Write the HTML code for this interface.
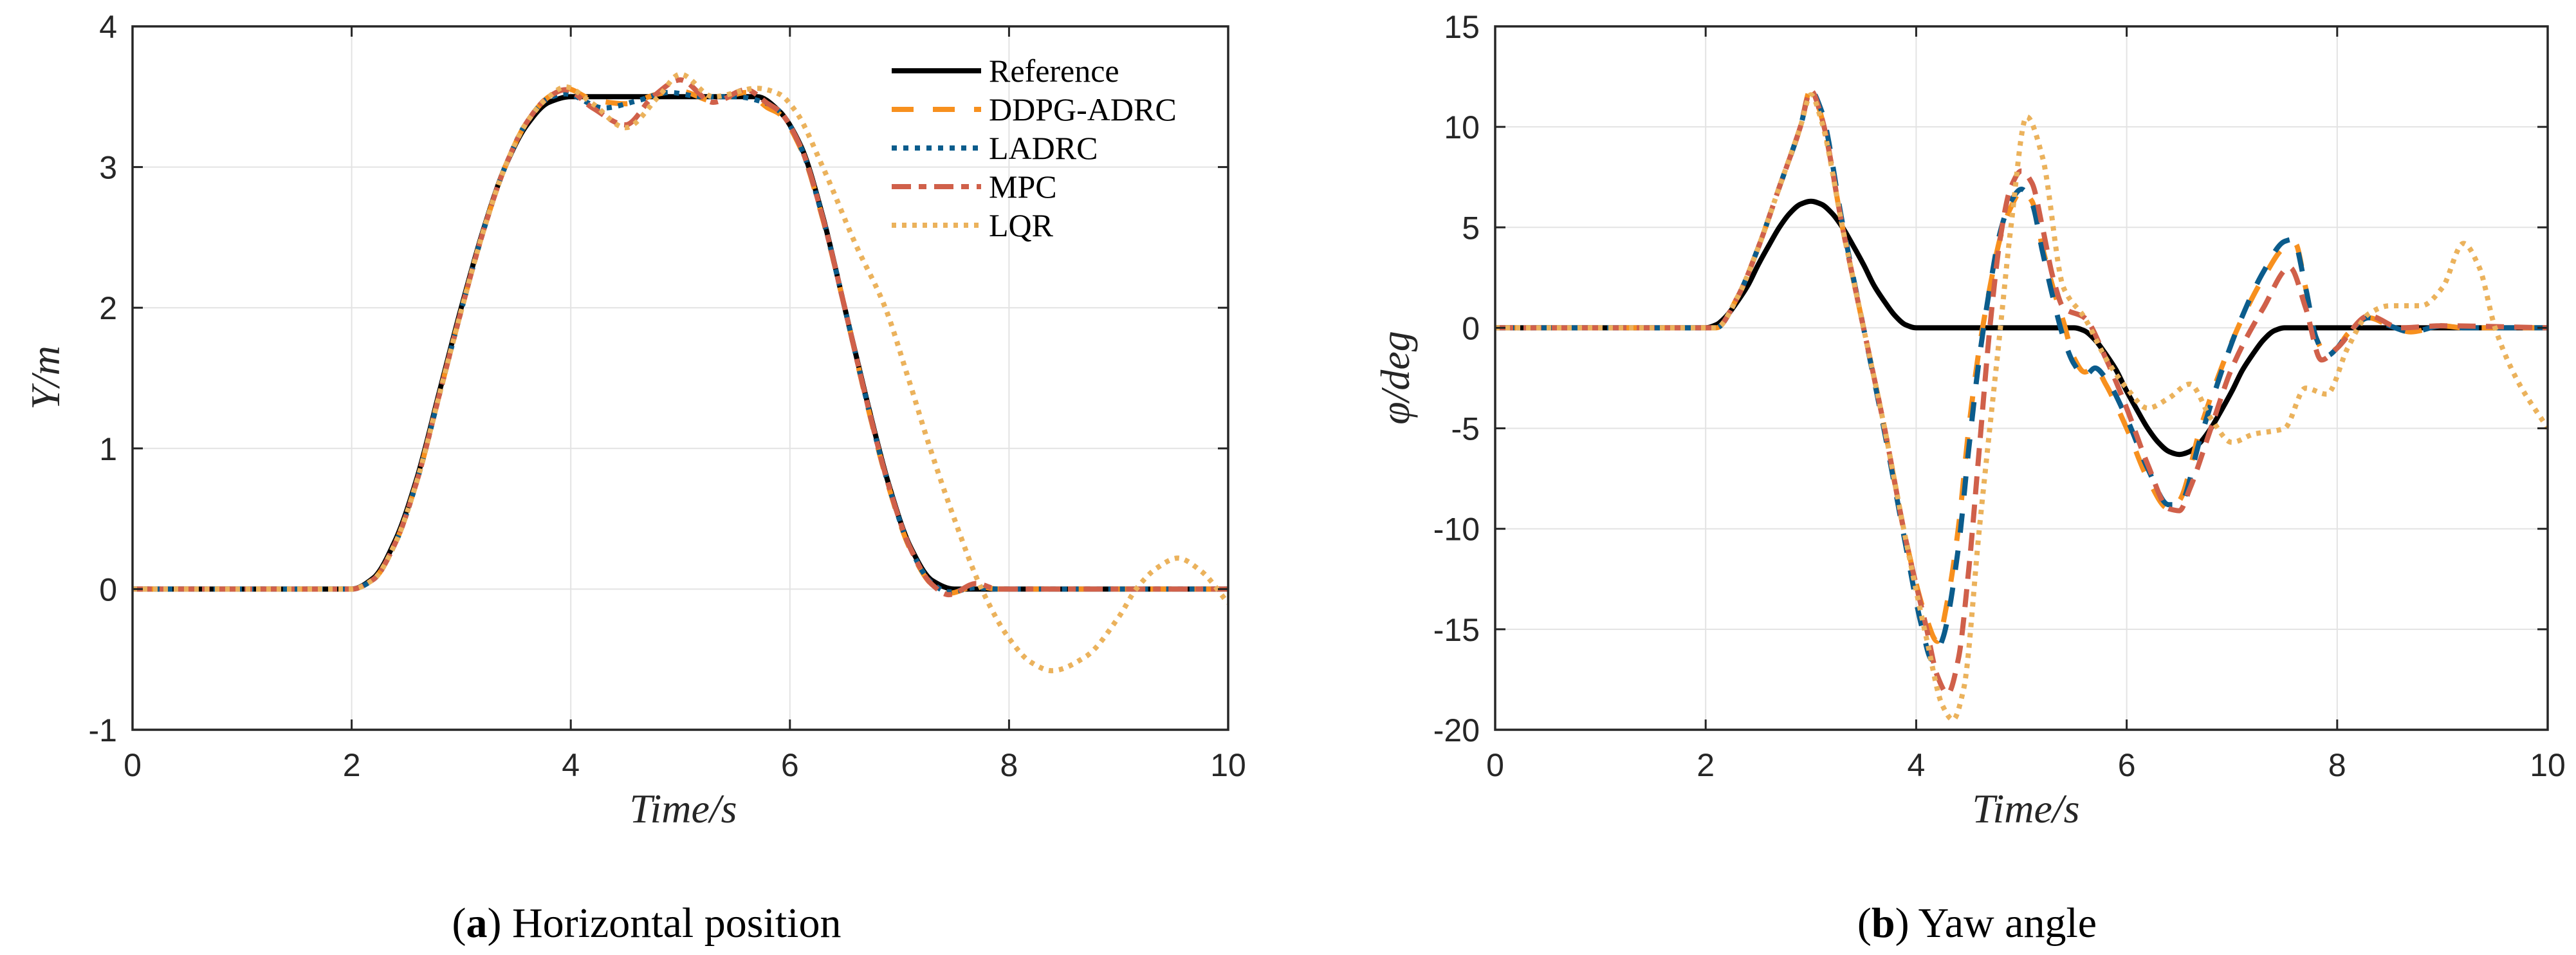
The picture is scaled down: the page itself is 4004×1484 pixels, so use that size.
<!DOCTYPE html>
<html><head><meta charset="utf-8"><style>
html,body{margin:0;padding:0;background:#fff;}
svg{display:block;}
</style></head><body>
<svg id="fig" width="4004" height="1484" viewBox="0 0 4004 1484" xmlns="http://www.w3.org/2000/svg">
<rect width="4004" height="1484" fill="#fff"/>
</svg>
<script>
// ---------- data: panel (a) horizontal position ----------
const xTicks = [0,2,4,6,8,10];
const yTicksA = [-1,0,1,2,3,4];
const yTicksB = [-20,-15,-10,-5,0,5,10,15];
const seriesNames = ["Reference","DDPG-ADRC","LADRC","MPC","LQR"];

const refT_A = [0,2.0,2.2,2.4,2.6,2.8,3.0,3.2,3.4,3.6,3.8,4.0,5.7,5.9,6.1,6.3,6.5,6.7,6.9,7.1,7.3,7.5,10];
const refY_A = [0,0,0.08,0.35,0.8,1.4,2.0,2.55,3.0,3.3,3.46,3.5,3.5,3.4,3.15,2.65,2.0,1.35,0.75,0.3,0.06,0,0];

const ddpgT_A = [0,2.0,2.2,2.4,2.6,2.8,3.0,3.2,3.4,3.6,3.8,3.95,4.2,4.5,4.8,5.0,5.3,5.6,5.8,5.9,6.1,6.3,6.5,6.7,6.9,7.1,7.3,7.45,7.7,7.9,10];
const ddpgY_A = [0,0,0.07,0.33,0.78,1.38,1.98,2.54,3.0,3.32,3.5,3.56,3.48,3.45,3.52,3.54,3.47,3.53,3.42,3.38,3.13,2.63,2.0,1.33,0.73,0.28,0.03,-0.03,0.02,0,0];

const ladrcT_A = [0,2.0,2.2,2.4,2.6,2.8,3.0,3.2,3.4,3.6,3.8,3.95,4.3,4.6,4.9,5.2,5.5,5.8,5.9,6.1,6.3,6.5,6.7,6.9,7.1,7.3,7.45,7.7,7.9,10];
const ladrcY_A = [0,0,0.07,0.33,0.78,1.38,1.98,2.54,3.0,3.32,3.49,3.52,3.42,3.47,3.53,3.5,3.5,3.45,3.4,3.14,2.64,2.0,1.34,0.74,0.29,0.04,-0.02,0.01,0,0];

const mpcT_A = [0,2.0,2.2,2.4,2.6,2.8,3.0,3.2,3.4,3.6,3.8,3.95,4.2,4.5,4.75,5.0,5.3,5.6,5.8,5.9,6.1,6.3,6.5,6.7,6.9,7.1,7.3,7.45,7.7,7.9,10];
const mpcY_A = [0,0,0.07,0.33,0.78,1.38,1.98,2.54,3.0,3.32,3.5,3.55,3.42,3.3,3.5,3.62,3.46,3.55,3.45,3.4,3.14,2.64,2.0,1.34,0.74,0.29,0.03,-0.04,0.04,0,0];

const lqrT_A = [0,2.0,2.2,2.4,2.6,2.8,3.0,3.2,3.4,3.6,3.8,3.95,4.2,4.5,4.8,5.0,5.3,5.7,5.9,6.05,6.3,6.6,6.87,7.08,7.28,7.5,7.75,8.0,8.2,8.39,8.7,9.0,9.16,9.35,9.54,9.75,10];
const lqrY_A = [0,0,0.07,0.33,0.78,1.38,1.98,2.54,3.0,3.32,3.5,3.57,3.45,3.28,3.5,3.66,3.5,3.56,3.52,3.4,3.0,2.45,2.0,1.5,1.0,0.5,0,-0.35,-0.52,-0.58,-0.48,-0.2,0,0.15,0.22,0.13,-0.1];

// ---------- data: panel (b) yaw angle ----------
const refT_B = [0,2.0,2.1,2.2,2.3,2.4,2.5,2.6,2.7,2.8,2.9,3.0,3.1,3.2,3.3,3.4,3.5,3.6,3.7,3.8,3.9,4.0,5.5,5.6,5.7,5.8,5.9,6.0,6.1,6.2,6.3,6.4,6.5,6.6,6.7,6.8,6.9,7.0,7.1,7.2,7.3,7.4,7.5,10];
const refY_B = [0,0,0.15,0.6,1.3,2.1,3.15,4.1,5.0,5.7,6.15,6.3,6.15,5.7,5.0,4.1,3.15,2.1,1.3,0.6,0.15,0,0,-0.15,-0.6,-1.3,-2.1,-3.15,-4.1,-5.0,-5.7,-6.15,-6.3,-6.15,-5.7,-5.0,-4.1,-3.15,-2.1,-1.3,-0.6,-0.15,0,0];

const ddpgT_B = [0,2.1,2.3,2.5,2.7,2.9,3.0,3.1,3.3,3.5,3.7,3.9,4.1,4.2,4.3,4.4,4.5,4.6,4.7,4.8,4.9,5.0,5.1,5.2,5.3,5.4,5.5,5.6,5.7,5.8,6.0,6.2,6.4,6.5,6.7,6.9,7.1,7.3,7.5,7.6,7.7,7.8,7.9,8.0,8.1,8.3,8.5,8.7,9.0,9.2,10];
const ddpgY_B = [0,0,1.5,4,7,10,11.9,10.5,5,0,-5,-10.5,-14.5,-15.6,-13.5,-10,-5,-1,2,4.5,6,6.8,6.3,4,2,0.3,-1.5,-2.2,-2.0,-2.8,-5,-7.5,-9,-8.6,-5,-2,0.5,2.5,4,4.2,2,-0.5,-1.3,-1,-0.3,0.5,0.1,-0.2,0.1,0,0];

const ladrcT_B = [0,2.1,2.3,2.5,2.7,2.9,3.0,3.1,3.3,3.5,3.7,3.9,4.05,4.15,4.25,4.4,4.5,4.6,4.7,4.8,4.9,5.0,5.1,5.2,5.3,5.4,5.5,5.6,5.7,5.8,6.0,6.2,6.4,6.5,6.7,6.9,7.1,7.3,7.5,7.58,7.7,7.8,7.9,8.0,8.1,8.3,8.5,8.7,9.0,9.2,10];
const ladrcY_B = [0,0,1.5,4,7,10,11.8,10.8,5.2,0,-5.2,-10.8,-14.8,-16.5,-15.5,-11,-6,-1.5,2,4.8,6.3,6.9,6.2,3.8,1.5,-0.5,-1.8,-2.4,-2.0,-2.5,-4.5,-7,-8.8,-8.8,-5.5,-2.2,0.6,2.8,4.3,4.4,2,-0.5,-1.4,-1,-0.3,0.5,0.1,-0.2,0.1,0,0];

const mpcT_B = [0,2.1,2.3,2.5,2.7,2.9,3.0,3.1,3.3,3.5,3.7,3.9,4.1,4.2,4.3,4.4,4.5,4.6,4.7,4.8,4.9,5.0,5.1,5.2,5.3,5.4,5.6,5.8,6.0,6.2,6.4,6.5,6.6,6.8,7.0,7.3,7.55,7.7,7.85,8.0,8.3,8.6,9.0,10];
const mpcY_B = [0,0,1.5,4,7,10,11.8,10.5,5,0,-5,-10.5,-15,-17.3,-18.2,-16.5,-12,-6,0,4.5,7,7.8,7.2,5,2.5,1,0.5,-1.5,-4,-6.8,-9,-9.1,-8,-5,-2,1,3,1,-1.6,-1,0.6,0,0.1,0];

const lqrT_B = [0,2.1,2.3,2.5,2.7,2.9,3.0,3.1,3.3,3.5,3.7,3.9,4.1,4.25,4.35,4.45,4.6,4.8,4.9,5.05,5.2,5.4,5.6,5.8,6.0,6.2,6.4,6.6,6.8,7.0,7.2,7.5,7.7,7.9,8.1,8.3,8.5,8.8,9.0,9.2,9.35,9.5,9.7,10];
const lqrY_B = [0,0,1.5,4,7,10,11.6,10.3,5,0,-5,-10.5,-15.5,-18.8,-19.5,-18,-10,0,5,10.5,8.5,2,0.5,-1.5,-3,-4,-3.5,-2.8,-4.5,-5.7,-5.3,-5.0,-3,-3.3,-1,0.7,1.1,1.1,2,4.2,3,0,-2.5,-5];

// ---------- drawing ----------
const NS = "http://www.w3.org/2000/svg";
const svg = document.getElementById('fig');
function mk(tag, attrs, parent){
  const e = document.createElementNS(NS, tag);
  for (const k in attrs) e.setAttribute(k, attrs[k]);
  (parent||svg).appendChild(e);
  return e;
}
// monotone cubic (Fritsch-Carlson) in screen coords
function smoothPath(pts){
  const n = pts.length;
  const dx=[], dy=[], m=[];
  for (let i=0;i<n-1;i++){ dx.push(pts[i+1][0]-pts[i][0]); dy.push(pts[i+1][1]-pts[i][1]); m.push(dy[i]/(dx[i]||1e-6)); }
  const tg = new Array(n);
  tg[0]=m[0]; tg[n-1]=m[n-2];
  for (let i=1;i<n-1;i++){
    if (m[i-1]*m[i] <= 0) tg[i]=0;
    else { const w1=2*dx[i]+dx[i-1], w2=dx[i]+2*dx[i-1]; tg[i]=(w1+w2)/(w1/m[i-1]+w2/m[i]); }
  }
  let d = "M"+pts[0][0].toFixed(1)+","+pts[0][1].toFixed(1);
  for (let i=0;i<n-1;i++){
    const h=dx[i]/3;
    d+=" C"+(pts[i][0]+h).toFixed(1)+","+(pts[i][1]+tg[i]*h).toFixed(1)+" "+(pts[i+1][0]-h).toFixed(1)+","+(pts[i+1][1]-tg[i+1]*h).toFixed(1)+" "+pts[i+1][0].toFixed(1)+","+pts[i+1][1].toFixed(1);
  }
  return d;
}
const styles = [
  {stroke:"#000000", dash:"", w:8},
  {stroke:"#F7901E", dash:"34,30", w:8},
  {stroke:"#0B5C8C", dash:"8,10", w:8},
  {stroke:"#D0604A", dash:"30,12,12,12", w:8},
  {stroke:"#EBB25C", dash:"7,9", w:8}
];
const dashB = ["", "34,30", "30,28", "28,16", "7,9"];

function panel(cfg){
  const {x0,x1,y0,y1,ymin,ymax,yTicks,series,pname,dashes} = cfg;
  const g = mk('g',{});
  
  
  const X = v => x0 + (v-0)/(10-0)*(x1-x0);
  const Y = v => y1 - (v-ymin)/(ymax-ymin)*(y1-y0);
  xTicks.forEach(t=>{
    const l = mk('line',{x1:X(t),x2:X(t),y1:y0,y2:y1,stroke:"#e3e3e3","stroke-width":2},g);
    
    
  });
  yTicks.forEach(t=>{
    const l = mk('line',{x1:x0,x2:x1,y1:Y(t),y2:Y(t),stroke:"#e3e3e3","stroke-width":2},g);
    
    
  });
  const clipId = pname+"-clip";
  const cp = mk('clipPath',{id:clipId},g);
  mk('rect',{x:x0,y:y0-20,width:x1-x0,height:y1-y0+40},cp);
  series.forEach((s,i)=>{
    const pts = s.t.map((t,j)=>[X(t),Y(s.v[j])]);
    const p = mk('path',{d:smoothPath(pts),fill:"none",stroke:styles[i].stroke,"stroke-width":styles[i].w,"stroke-dasharray":dashes?dashes[i]:styles[i].dash,"stroke-linejoin":"round","clip-path":"url(#"+clipId+")"},g);
    
    
  });
  const box = mk('rect',{x:x0,y:y0,width:x1-x0,height:y1-y0,fill:"none",stroke:"#262626","stroke-width":3.5},g);
  
  
  xTicks.forEach(t=>{
    mk('line',{x1:X(t),x2:X(t),y1:y1,y2:y1-16,stroke:"#262626","stroke-width":3},g);
    mk('line',{x1:X(t),x2:X(t),y1:y0,y2:y0+16,stroke:"#262626","stroke-width":3},g);
    const tx = mk('text',{x:X(t),y:1206,"font-family":"Liberation Sans, sans-serif","font-size":50,fill:"#262626","text-anchor":"middle"},g);
    tx.textContent = t;
    
    
  });
  yTicks.forEach(t=>{
    mk('line',{x1:x0,x2:x0+16,y1:Y(t),y2:Y(t),stroke:"#262626","stroke-width":3},g);
    mk('line',{x1:x1,x2:x1-16,y1:Y(t),y2:Y(t),stroke:"#262626","stroke-width":3},g);
    const tx = mk('text',{x:x0-24,y:Y(t)+18,"font-family":"Liberation Sans, sans-serif","font-size":50,fill:"#262626","text-anchor":"end"},g);
    tx.textContent = t;
    
    
  });
}

panel({x0:206,x1:1909,y0:41,y1:1134,ymin:-1,ymax:4,yTicks:yTicksA,pname:"panel-horizontal-position",
  series:[{t:refT_A,v:refY_A},{t:ddpgT_A,v:ddpgY_A},{t:ladrcT_A,v:ladrcY_A},{t:mpcT_A,v:mpcY_A},{t:lqrT_A,v:lqrY_A}]});
panel({x0:2324,x1:3960,y0:41,y1:1134,ymin:-20,ymax:15,yTicks:yTicksB,pname:"panel-yaw-angle",dashes:dashB,
  series:[{t:refT_B,v:refY_B},{t:ddpgT_B,v:ddpgY_B},{t:ladrcT_B,v:ladrcY_B},{t:mpcT_B,v:mpcY_B},{t:lqrT_B,v:lqrY_B}]});

const lg = mk('g',{});


const legendY = [110,170,230,290,350];
seriesNames.forEach((n,i)=>{
  const l = mk('line',{x1:1386,x2:1525,y1:legendY[i],y2:legendY[i],stroke:styles[i].stroke,"stroke-width":styles[i].w,"stroke-dasharray":styles[i].dash},lg);
  
  
  const t = mk('text',{x:1537,y:legendY[i]+17,"font-family":"Liberation Serif, serif","font-size":50,fill:"#000"},lg);
  t.textContent = n;
  
  
});

function txt(x,y,s,attrs,name){
  const t = mk('text',Object.assign({x:x,y:y},attrs));
  t.textContent = s;
  
  
  return t;
}
const ital = {"font-family":"Liberation Serif, serif","font-style":"italic","font-size":64,fill:"#262626","text-anchor":"middle"};
txt(1062,1278,"Time/s",ital,"x-axis-title-a");
txt(3149,1278,"Time/s",ital,"x-axis-title-b");
txt(0,0,"Y/m",Object.assign({transform:"translate(92,587) rotate(-90)"},ital),"y-axis-title-a");
txt(0,0,"φ/deg",Object.assign({transform:"translate(2190,587) rotate(-90)"},ital),"y-axis-title-b");
const cap = {"font-family":"Liberation Serif, serif","font-size":66,fill:"#000","text-anchor":"middle"};
const c1 = txt(1005,1456,"",cap,"caption-a");
c1.innerHTML = '(<tspan font-weight="bold">a</tspan>) Horizontal position';
const c2 = txt(3073,1456,"",cap,"caption-b");
c2.innerHTML = '(<tspan font-weight="bold">b</tspan>) Yaw angle';
</script>
</body></html>
